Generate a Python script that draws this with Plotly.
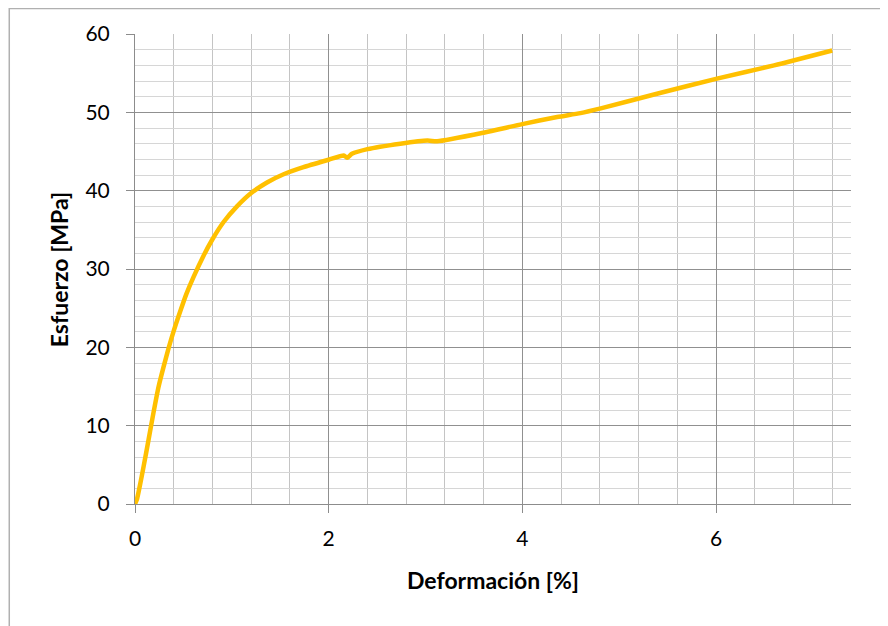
import plotly.graph_objects as go

# Data
strain = [0, 0.02, 0.048, 0.089, 0.14, 0.19, 0.244, 0.295, 0.347, 0.40, 0.47,
          0.53, 0.605, 0.708, 0.80, 0.915, 1.053, 1.20, 1.363, 1.535, 1.74,
          2.00, 2.155, 2.19, 2.24, 2.40, 2.74, 3.02, 3.12, 3.60, 4.00, 4.36,
          4.60, 4.81, 5.40, 6.01, 6.60, 7.20]
stress = [0, 0.6, 2.2, 4.8, 8.2, 11.6, 15.0, 17.5, 19.9, 22.1, 24.7,
          26.8, 29.0, 31.7, 33.8, 36.0, 38.0, 39.7, 41.05, 42.1, 43.0,
          43.95, 44.5, 44.2, 44.7, 45.3, 46.0, 46.4, 46.3, 47.4, 48.5, 49.4,
          49.9, 50.5, 52.4, 54.3, 56.0, 57.9]

x_ticks = [0, 2, 4, 6]
y_ticks = [0, 10, 20, 30, 40, 50, 60]
x_title = "Deformación [%]"
y_title = "Esfuerzo [MPa]"

FONT = "Lato"

fig = go.Figure()
fig.add_trace(go.Scatter(
    x=strain, y=stress, mode="lines",
    line=dict(color="#FFC000", width=4.5, shape="spline", smoothing=0.6),
    showlegend=False, hoverinfo="skip",
))

fig.update_layout(
    width=880, height=618,
    margin=dict(l=126.7, r=37.3, t=26.3, b=122, autoexpand=False),
    paper_bgcolor="white", plot_bgcolor="white",
    font=dict(family=FONT, color="black"),
    xaxis=dict(
        range=[0, 7.394], tickvals=x_ticks, ticktext=[str(v) for v in x_ticks],
        showgrid=True, gridcolor="#909090", gridwidth=1,
        minor=dict(dtick=0.4, tick0=0, showgrid=True, gridcolor="#c4c4c4", gridwidth=1.2),
        ticks="outside", ticklen=8, tickcolor="#8c8c8c", tickwidth=1,
        ticklabelstandoff=8,
        showline=True, linecolor="#8c8c8c", linewidth=1,
        zeroline=False, tickfont=dict(size=21, family=FONT),
    ),
    yaxis=dict(
        range=[0, 60], tickvals=y_ticks, ticktext=[str(v) for v in y_ticks],
        showgrid=True, gridcolor="#909090", gridwidth=1,
        minor=dict(dtick=2, tick0=0, showgrid=True, gridcolor="#d6d6d6", gridwidth=1.2),
        ticks="outside", ticklen=8, tickcolor="#8c8c8c", tickwidth=1,
        ticklabelstandoff=12,
        showline=True, linecolor="#8c8c8c", linewidth=1,
        zeroline=False, tickfont=dict(size=21, family=FONT),
    ),
    annotations=[
        dict(text="<b>" + x_title + "</b>", xref="paper", yref="paper",
             x=0.5004, y=-0.1618, xanchor="center", yanchor="middle",
             showarrow=False, font=dict(size=23, family=FONT)),
        dict(text="<b>" + y_title + "</b>", xref="paper", yref="paper",
             x=-0.1057, y=0.498, xanchor="center", yanchor="middle",
             textangle=-90, showarrow=False, font=dict(size=23, family=FONT)),
    ],
    shapes=[
        dict(type="rect", xref="paper", yref="paper",
             x0=-0.1756, x1=1.2, y0=-0.4, y1=1.0544,
             line=dict(color="#b0b0b0", width=1.5), fillcolor="rgba(0,0,0,0)", layer="below"),
    ],
)

fig.write_html("out.html")
